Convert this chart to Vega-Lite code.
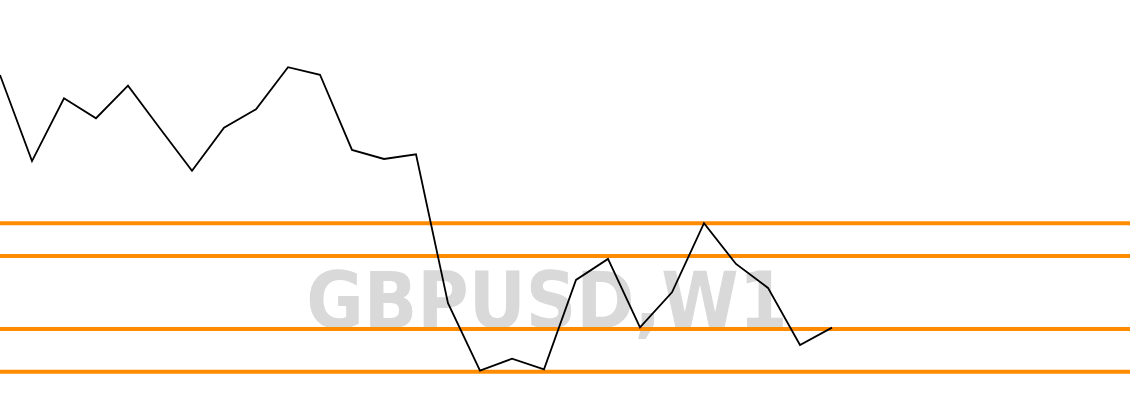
{
  "$schema": "https://vega.github.io/schema/vega-lite/v6.json",
  "width": 1130,
  "height": 420,
  "autosize": {"type": "none"},
  "padding": 0,
  "background": "white",
  "config": {"view": {"stroke": null}},
  "datasets": {
    "price": [
      {"bar": 0, "close": 1.3843},
      {"bar": 1, "close": 1.3433},
      {"bar": 2, "close": 1.3732},
      {"bar": 3, "close": 1.3637},
      {"bar": 4, "close": 1.3792},
      {"bar": 5, "close": 1.3588},
      {"bar": 6, "close": 1.3387},
      {"bar": 7, "close": 1.3592},
      {"bar": 8, "close": 1.3680},
      {"bar": 9, "close": 1.3880},
      {"bar": 10, "close": 1.3844},
      {"bar": 11, "close": 1.3486},
      {"bar": 12, "close": 1.3443},
      {"bar": 13, "close": 1.3465},
      {"bar": 14, "close": 1.2756},
      {"bar": 15, "close": 1.2435},
      {"bar": 16, "close": 1.2492},
      {"bar": 17, "close": 1.2441},
      {"bar": 18, "close": 1.2867},
      {"bar": 19, "close": 1.2967},
      {"bar": 20, "close": 1.2641},
      {"bar": 21, "close": 1.2808},
      {"bar": 22, "close": 1.3137},
      {"bar": 23, "close": 1.2943},
      {"bar": 24, "close": 1.2829},
      {"bar": 25, "close": 1.2557},
      {"bar": 26, "close": 1.2640}
    ],
    "levels": [
      {"level": 1.3137},
      {"level": 1.2981},
      {"level": 1.2633},
      {"level": 1.2430}
    ],
    "label": [
      {"bar": 17.09, "close": 1.2638, "text": "GBPUSD,W1"}
    ]
  },
  "layer": [
    {
      "data": {"name": "label"},
      "mark": {"type": "text", "font": "DejaVu Sans Condensed", "fontWeight": "bold", "fontSize": 78, "color": "#d9d9d9", "align": "center", "baseline": "alphabetic"},
      "encoding": {
        "x": {"field": "bar", "type": "quantitative", "scale": {"domain": [0, 35.3125], "nice": false, "zero": false}, "axis": null},
        "y": {"field": "close", "type": "quantitative", "scale": {"domain": [1.22, 1.42], "nice": false, "zero": false}, "axis": null},
        "text": {"field": "text"}
      }
    },
    {
      "data": {"name": "levels"},
      "mark": {"type": "rule", "color": "#FF8C00", "strokeWidth": 4},
      "encoding": {
        "y": {"field": "level", "type": "quantitative", "scale": {"domain": [1.22, 1.42], "nice": false, "zero": false}, "axis": null}
      }
    },
    {
      "data": {"name": "price"},
      "mark": {"type": "line", "color": "black", "strokeWidth": 1.8},
      "encoding": {
        "x": {"field": "bar", "type": "quantitative", "scale": {"domain": [0, 35.3125], "nice": false, "zero": false}, "axis": null},
        "y": {"field": "close", "type": "quantitative", "scale": {"domain": [1.22, 1.42], "nice": false, "zero": false}, "axis": null}
      }
    }
  ]
}
